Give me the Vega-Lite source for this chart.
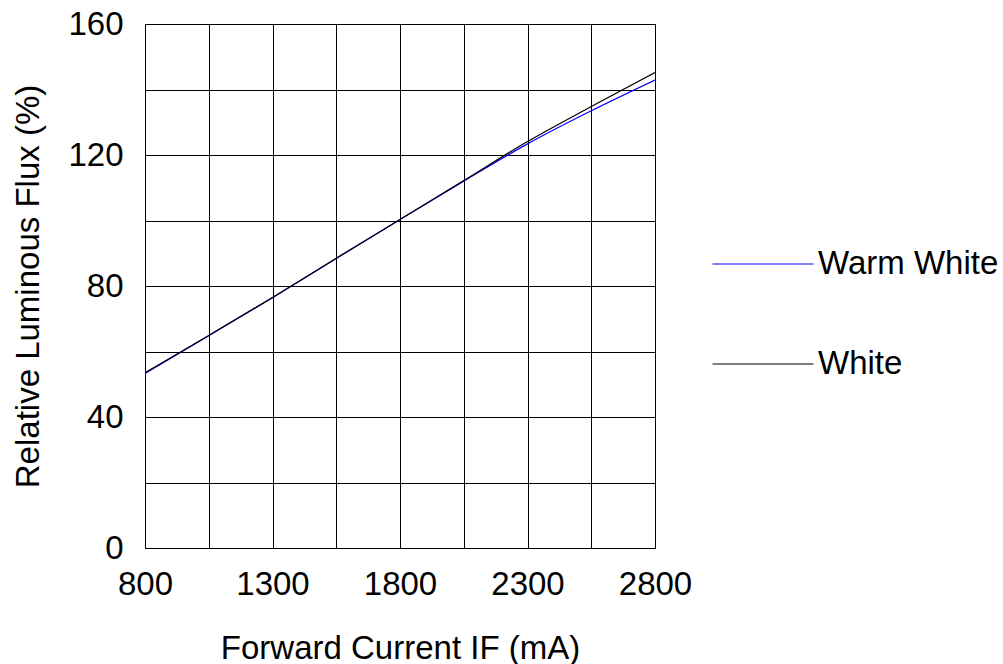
{
  "$schema": "https://vega.github.io/schema/vega-lite/v6.json",
  "width": 510,
  "height": 524,
  "autosize": "none",
  "padding": {"left": 145, "top": 24, "right": 348, "bottom": 116},
  "background": "white",
  "config": {
    "view": {"stroke": "#000000", "strokeWidth": 1},
    "font": "Liberation Sans",
    "axis": {
      "labelFont": "Liberation Sans",
      "titleFont": "Liberation Sans",
      "labelFontSize": 33,
      "titleFontSize": 33,
      "titleFontWeight": "normal",
      "labelColor": "#000000",
      "titleColor": "#000000",
      "gridColor": "#000000",
      "gridOpacity": 1,
      "gridWidth": 1,
      "domainColor": "#000000",
      "ticks": false,
      "tickSize": 0
    },
    "legend": {
      "labelFont": "Liberation Sans",
      "labelFontSize": 33,
      "labelColor": "#000000",
      "labelLimit": 400
    }
  },
  "data": {
    "values": [
      {"current": 800, "flux": 53.3, "series": "Warm White"},
      {"current": 1050, "flux": 64.8, "series": "Warm White"},
      {"current": 1300, "flux": 76.4, "series": "Warm White"},
      {"current": 1550, "flux": 88.4, "series": "Warm White"},
      {"current": 1800, "flux": 100.3, "series": "Warm White"},
      {"current": 2050, "flux": 112.0, "series": "Warm White"},
      {"current": 2300, "flux": 123.4, "series": "Warm White"},
      {"current": 2550, "flux": 133.5, "series": "Warm White"},
      {"current": 2800, "flux": 142.9, "series": "Warm White"},
      {"current": 800, "flux": 53.5, "series": "White"},
      {"current": 1050, "flux": 64.9, "series": "White"},
      {"current": 1300, "flux": 76.5, "series": "White"},
      {"current": 1550, "flux": 88.5, "series": "White"},
      {"current": 1800, "flux": 100.3, "series": "White"},
      {"current": 2050, "flux": 112.2, "series": "White"},
      {"current": 2300, "flux": 124.1, "series": "White"},
      {"current": 2550, "flux": 134.8, "series": "White"},
      {"current": 2800, "flux": 145.2, "series": "White"}
    ]
  },
  "mark": {"type": "line", "interpolate": "monotone", "strokeWidth": 1.2, "clip": true},
  "encoding": {
    "x": {
      "field": "current",
      "type": "quantitative",
      "scale": {"domain": [800, 2800], "nice": false, "zero": false},
      "axis": {
        "title": "Forward Current IF (mA)",
        "values": [800, 1050, 1300, 1550, 1800, 2050, 2300, 2550, 2800],
        "labelExpr": "(datum.value - 800) % 500 == 0 ? datum.label : ''",
        "format": "d",
        "labelPadding": 20,
        "titlePadding": 31,
        "labelFlush": false,
        "labelOverlap": false
      }
    },
    "y": {
      "field": "flux",
      "type": "quantitative",
      "scale": {"domain": [0, 160], "nice": false},
      "axis": {
        "title": "Relative Luminous Flux (%)",
        "values": [0, 20, 40, 60, 80, 100, 120, 140, 160],
        "labelExpr": "datum.value % 40 == 0 ? datum.label : ''",
        "labelPadding": 22,
        "titlePadding": 22,
        "labelFlush": false,
        "labelOverlap": false
      }
    },
    "color": {
      "field": "series",
      "type": "nominal",
      "scale": {"domain": ["Warm White", "White"], "range": ["#0000ff", "#000000"]},
      "legend": {
        "title": null,
        "orient": "none",
        "legendX": 567,
        "legendY": 189,
        "symbolType": "stroke",
        "symbolSize": 10201,
        "symbolStrokeWidth": 1,
        "labelOffset": 4,
        "rowPadding": 32,
        "padding": 0
      }
    },
    "order": {"field": "series", "sort": "ascending"}
  }
}
